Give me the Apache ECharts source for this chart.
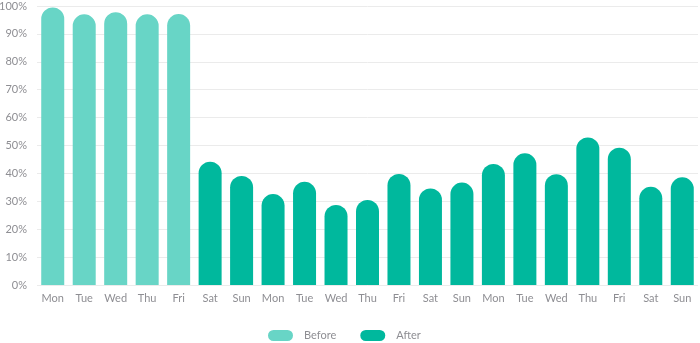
<!DOCTYPE html>
<html>
<head>
<meta charset="utf-8">
<script src="https://cdn.jsdelivr.net/npm/echarts@6/dist/echarts.min.js"></script>
<style>
  html, body { margin: 0; padding: 0; background: #fff; }
  #chart { width: 700px; height: 343px; }
</style>
</head>
<body>
<div id="chart"></div>
<script>
// Days shown along the x axis (three weeks of measurements)
const days = ['Mon', 'Tue', 'Wed', 'Thu', 'Fri', 'Sat', 'Sun', 'Mon', 'Tue', 'Wed', 'Thu',
              'Fri', 'Sat', 'Sun', 'Mon', 'Tue', 'Wed', 'Thu', 'Fri', 'Sat', 'Sun'];
// Percentages before the change (first five days only)
const beforeValues = [99.5, 97, 97.8, 97, 97.1, null, null, null, null, null, null,
                      null, null, null, null, null, null, null, null, null, null];
// Percentages after the change
const afterValues = [null, null, null, null, null, 44.2, 39.1, 32.6, 37, 28.7, 30.5,
                     39.8, 34.6, 36.7, 43.4, 47.2, 39.7, 52.9, 49.2, 35.2, 38.6];
const yTicks = { min: 0, max: 100, interval: 10 };

const textColor = '#8e8e93';
const fontFamily = 'Lato, "Noto Sans", sans-serif';
// Pill-shaped legend marker
const pillIcon = 'path://M5.5,0 H19.5 A5.5,5.5 0 0 1 19.5,11 H5.5 A5.5,5.5 0 0 1 5.5,0 Z';

const chart = echarts.init(document.getElementById('chart'));
chart.setOption({
  animation: false,
  grid: { left: 37, right: 2, top: 6, bottom: 58, outerBoundsMode: 'none', containLabel: false },
  legend: {
    top: 330,
    left: 268,
    padding: 0,
    itemWidth: 25,
    itemHeight: 11,
    itemGap: 24,
    icon: pillIcon,
    textStyle: { color: textColor, fontSize: 11, fontFamily: fontFamily, padding: [0, 0, 0, 6] },
    data: ['Before', 'After']
  },
  xAxis: {
    type: 'category',
    data: days,
    axisLine: { show: false },
    axisTick: { show: false },
    axisLabel: { color: textColor, fontSize: 11, fontFamily: fontFamily, margin: 8 }
  },
  yAxis: {
    type: 'value',
    min: yTicks.min,
    max: yTicks.max,
    interval: yTicks.interval,
    axisLine: { show: false },
    axisTick: { show: false },
    axisLabel: {
      color: textColor, fontSize: 11, fontFamily: fontFamily, margin: 10,
      formatter: v => v + '%'
    },
    splitLine: { lineStyle: { color: '#ebebeb', width: 1 } }
  },
  series: [
    {
      name: 'Before',
      type: 'bar',
      data: beforeValues,
      barWidth: 23,
      barGap: '-100%',
      itemStyle: { color: '#68d5c6', borderRadius: [11.5, 11.5, 0, 0] }
    },
    {
      name: 'After',
      type: 'bar',
      data: afterValues,
      barWidth: 23,
      itemStyle: { color: '#00b89d', borderRadius: [11.5, 11.5, 0, 0] }
    }
  ]
});
</script>
</body>
</html>
